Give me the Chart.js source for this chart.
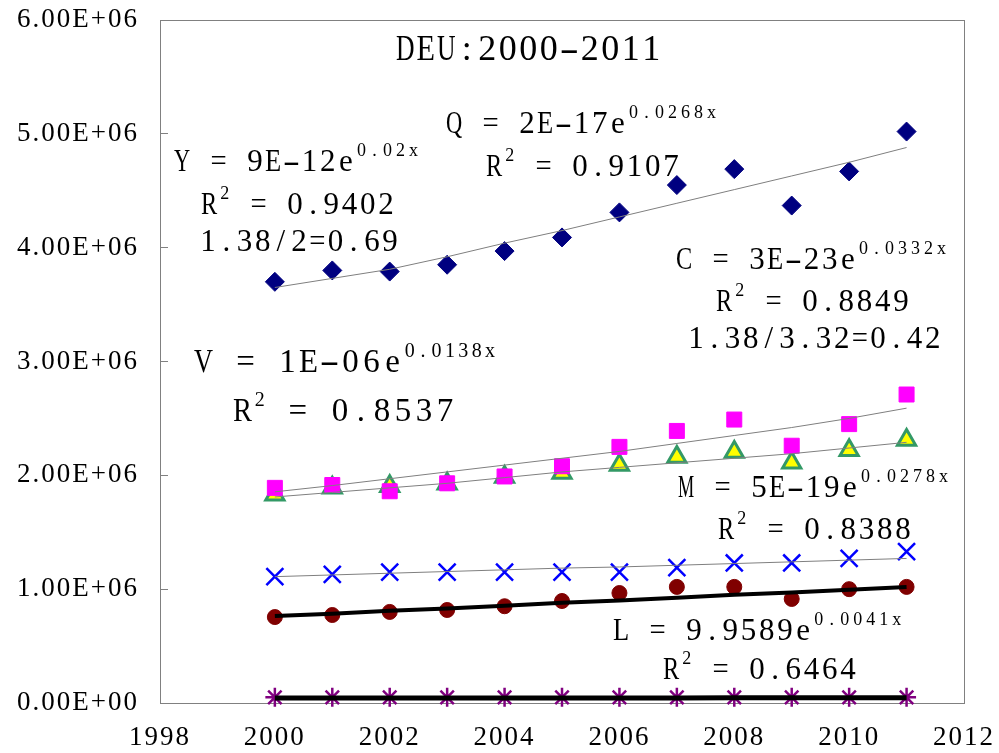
<!DOCTYPE html>
<html>
<head>
<meta charset="utf-8">
<script src="https://cdn.jsdelivr.net/npm/chart.js@4.4.1/dist/chart.umd.min.js"></script>
<style>html,body{margin:0;padding:0;background:#fff}canvas{display:block}</style>
</head>
<body>
<canvas id="c" width="999" height="753"></canvas>
<script>
// ---- data ----
const years = [2000, 2001, 2002, 2003, 2004, 2005, 2006, 2007, 2008, 2009, 2010, 2011];
const xTickValues = [1998, 2000, 2002, 2004, 2006, 2008, 2010, 2012];
const yTickValues = [0, 1000000, 2000000, 3000000, 4000000, 5000000, 6000000];

const navyValues    = [3700000, 3800000, 3790000, 3850000, 3970000, 4090000, 4310000, 4550000, 4690000, 4370000, 4670000, 5020000];
const navyTrend     = [3650000, 3730000, 3810000, 3920000, 4040000, 4150000, 4270000, 4390000, 4510000, 4630000, 4750000, 4880000];
const magentaValues = [1890000, 1915000, 1860000, 1930000, 1990000, 2080000, 2250000, 2390000, 2490000, 2260000, 2450000, 2710000];
const magentaTrend  = [1855000, 1910000, 1970000, 2030000, 2090000, 2150000, 2210000, 2280000, 2350000, 2420000, 2500000, 2590000];
const triangleValues= [1830000, 1890000, 1905000, 1925000, 1985000, 2020000, 2090000, 2160000, 2205000, 2110000, 2220000, 2310000];
const triangleTrend = [1810000, 1850000, 1890000, 1930000, 1980000, 2030000, 2070000, 2110000, 2150000, 2190000, 2240000, 2290000];
const crossValues   = [1110000, 1130000, 1150000, 1150000, 1150000, 1150000, 1150000, 1190000, 1230000, 1230000, 1270000, 1330000];
const crossTrend    = [1110000, 1125000, 1140000, 1155000, 1170000, 1185000, 1195000, 1210000, 1225000, 1240000, 1255000, 1270000];
const circleValues  = [755000, 773000, 800000, 817000, 850000, 896000, 966000, 1020000, 1020000, 914000, 1000000, 1020000];
const circleTrend   = [765000, 785000, 810000, 830000, 855000, 880000, 900000, 925000, 950000, 970000, 995000, 1020000];
const starValues    = [50000, 50000, 50000, 50000, 50000, 50000, 50000, 50000, 50000, 50000, 50000, 50000];
const starTrend     = [44000, 44000, 44000, 44500, 44500, 45000, 45000, 45000, 45500, 45500, 46000, 46000];

const titleText = 'DEU:2000-2011';
const annotations = [
  {x:395, y:60,  size:36, cell:20.5, parts:[[titleText]]},
  {x:173, y:171, parts:[['Y = 9E-12e'], ['0.02x', 1]]},
  {x:200, y:214, parts:[['R'], ['2', 1], [' = 0.9402']]},
  {x:199, y:251, parts:[['1.38/2=0.69']]},
  {x:445, y:133, parts:[['Q = 2E-17e'], ['0.0268x', 1]]},
  {x:485, y:176, parts:[['R'], ['2', 1], [' = 0.9107']]},
  {x:675, y:269, parts:[['C = 3E-23e'], ['0.0332x', 1]]},
  {x:715, y:311, parts:[['R'], ['2', 1], [' = 0.8849']]},
  {x:687, y:348, parts:[['1.38/3.32=0.42']]},
  {x:193, y:372, size:33, cell:21, supSize:20, supCell:13.4, parts:[['V = 1E-06e'], ['0.0138x', 1]]},
  {x:232, y:421, size:33, cell:21, supSize:20, supCell:13.4, parts:[['R'], ['2', 1], [' = 0.8537']]},
  {x:677, y:497, parts:[['M = 5E-19e'], ['0.0278x', 1]]},
  {x:717, y:539, parts:[['R'], ['2', 1], [' = 0.8388']]},
  {x:612, y:640, parts:[['L = 9.9589e'], ['0.0041x', 1]]},
  {x:662, y:679, parts:[['R'], ['2', 1], [' = 0.6464']]}
];

// ---- helpers ----
const FONT = "'Liberation Serif', 'DejaVu Serif', serif";
const pts = vals => years.map((yr, i) => ({x: yr, y: vals[i]}));
function sci(v) {
  if (v === 0) return '0.00E+00';
  const e = Math.floor(Math.log10(v) + 1e-9);
  const m = v / Math.pow(10, e);
  return m.toFixed(2) + 'E+' + String(e).padStart(2, '0');
}

function markers(vals, style, radius, fill, stroke, bw) {
  return {data: pts(vals), showLine: false, pointStyle: style, pointRadius: radius,
    pointHoverRadius: radius, pointBackgroundColor: fill, pointBorderColor: stroke,
    pointBorderWidth: bw, clip: false, order: 1};
}
function trend(vals, color, width) {
  return {data: pts(vals), showLine: true, pointRadius: 0, pointHoverRadius: 0,
    borderColor: color, borderWidth: width, tension: 0, fill: false, clip: false, order: 0};
}

const deco = {
  id: 'deco',
  beforeDraw(chart) { chart.ctx.letterSpacing = '2px'; },
  beforeDatasetsDraw(chart) {
    const {ctx, chartArea: a} = chart;
    ctx.save();
    ctx.strokeStyle = '#808080';
    ctx.lineWidth = 1;
    ctx.strokeRect(Math.round(a.left) + 0.5, Math.round(a.top) + 0.5,
                   Math.round(a.right - a.left), Math.round(a.bottom - a.top));
    ctx.restore();
  },
  afterDraw(chart) {
    const ctx = chart.ctx;
    ctx.save();
    ctx.letterSpacing = '0px';
    ctx.fillStyle = '#000';
    ctx.textAlign = 'center';
    ctx.textBaseline = 'alphabetic';
    for (const a of annotations) {
      const size = a.size || 31, cell = a.cell || 18.2;
      const supSize = a.supSize || 18, supCell = a.supCell || 13;
      let x = a.x;
      for (const [txt, sup] of a.parts) {
        const fs = sup ? supSize : size, c = sup ? supCell : cell;
        const by = sup ? a.y - 15 : a.y;
        ctx.font = fs + 'px ' + FONT;
        for (const ch of txt) {
          const w = ctx.measureText(ch).width;
          let k = w > c - 2 ? (c - 2) / w : 1;
          if (ch === '-') k = (c * 0.95) / w;
          ctx.save();
          ctx.translate(x + c / 2, by);
          ctx.scale(k, 1);
          ctx.fillText(ch, 0, 0);
          ctx.restore();
          x += c;
        }
      }
    }
    ctx.restore();
  }
};

new Chart(document.getElementById('c'), {
  type: 'scatter',
  data: {
    datasets: [
      trend(navyTrend, '#7f7f7f', 1),
      trend(magentaTrend, '#7f7f7f', 1),
      trend(triangleTrend, '#7f7f7f', 1),
      trend(crossTrend, '#7f7f7f', 1),
      trend(circleTrend, '#000000', 4),
      trend(starTrend, '#000000', 5),
      markers(navyValues, 'rectRot', 9.5, '#000080', '#000080', 1),
      markers(magentaValues, 'rect', 10.6, '#FF00FF', '#FF00FF', 1),
      markers(triangleValues, 'triangle', 10.5, '#FFFF00', '#339966', 3),
      markers(crossValues, 'crossRot', 12, '#0000FF', '#0000FF', 2.5),
      markers(circleValues, 'circle', 7.5, '#800000', '#800000', 1),
      markers(starValues, 'star', 9.5, '#800080', '#800080', 2.5)
    ]
  },
  options: {
    responsive: false,
    devicePixelRatio: 1,
    animation: false,
    events: [],
    layout: {padding: {top: 20, right: 35, left: 0, bottom: 0}},
    plugins: {legend: {display: false}, tooltip: {enabled: false}, title: {display: false}},
    scales: {
      x: {
        type: 'linear', min: 1998, max: 2012,
        afterBuildTicks: s => { s.ticks = xTickValues.map(v => ({value: v})); },
        afterFit: s => { s.height = 50; s.paddingLeft = 10; s.paddingRight = 10; },
        ticks: {color: '#000', font: {family: FONT, size: 27}, padding: 19,
                maxRotation: 0, autoSkip: false, callback: v => String(v)},
        grid: {display: true, drawOnChartArea: false, drawTicks: false},
        border: {display: true, color: '#808080', width: 1}
      },
      y: {
        type: 'linear', min: 0, max: 6000000,
        afterBuildTicks: s => { s.ticks = yTickValues.map(v => ({value: v})); },
        afterFit: s => { s.width = 160; s.paddingTop = 10; s.paddingBottom = 10; },
        ticks: {color: '#000', font: {family: FONT, size: 27}, padding: 29,
                autoSkip: false, callback: v => sci(v)},
        grid: {display: true, drawOnChartArea: false, drawTicks: true, tickLength: -8, color: '#808080'},
        border: {display: true, color: '#808080', width: 1}
      }
    }
  },
  plugins: [deco]
});
</script>
</body>
</html>
